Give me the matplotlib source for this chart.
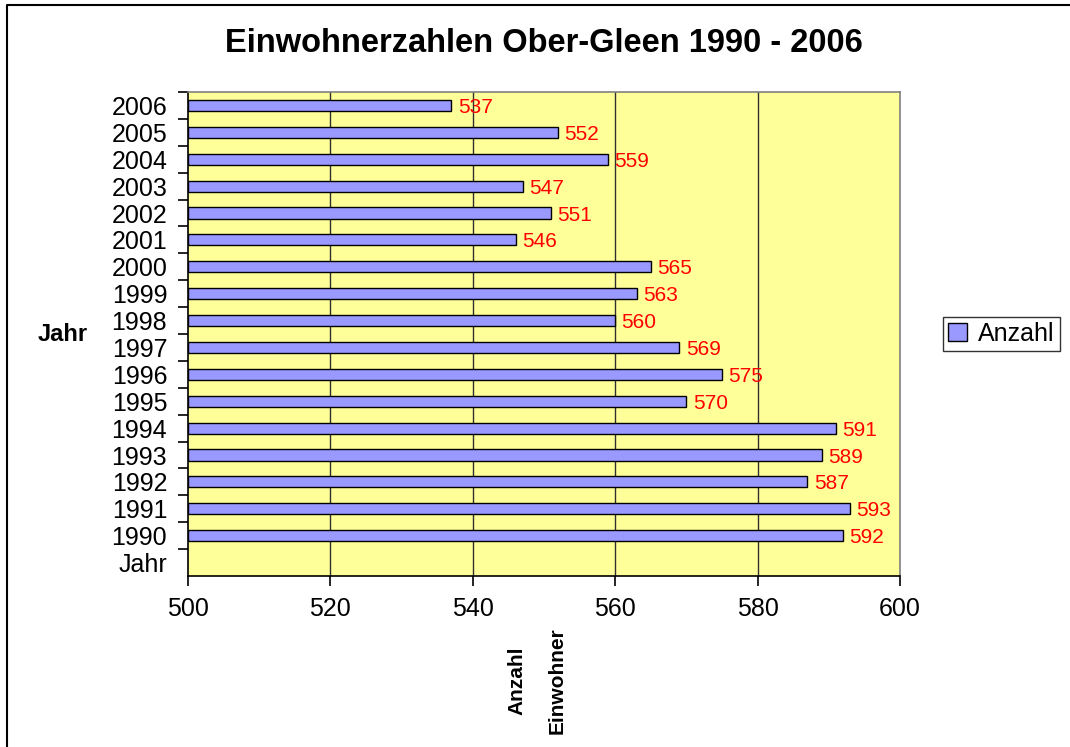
import matplotlib
matplotlib.use("Agg")
import matplotlib.pyplot as plt
from matplotlib.lines import Line2D

# ----------------------------
#   Daten
# ----------------------------
jahre = ["Jahr", "1990", "1991", "1992", "1993", "1994", "1995", "1996", "1997",
         "1998", "1999", "2000", "2001", "2002", "2003", "2004", "2005", "2006"]
anzahl = [None, 592, 593, 587, 589, 591, 570, 575, 569,
          560, 563, 565, 546, 551, 547, 559, 552, 537]
x_ticks = [500, 520, 540, 560, 580, 600]

plt.rcParams["font.family"] = ["Liberation Sans", "DejaVu Sans"]

fig = plt.figure(figsize=(10.7, 7.47), dpi=100)
ax = fig.add_axes([188 / 1070, 1 - 576 / 747, 712 / 1070, 484 / 747])

ax.set_facecolor("#FFFF99")
ax.set_xlim(500, 600)
ax.set_ylim(-0.5, len(jahre) - 0.5)

# vertikale Gitterlinien
for xv in x_ticks[1:-1]:
    ax.axvline(xv, color="#303030", linewidth=1.0, zorder=1)

pos = [i for i, v in enumerate(anzahl) if v is not None]
vals = [v for v in anzahl if v is not None]
bars = ax.barh(pos, [v - 500 for v in vals], left=500, height=0.41,
               color="#9999FF", edgecolor="black", linewidth=1.0, zorder=2,
               label="Anzahl")

for p, v in zip(pos, vals):
    ax.text(v + 0.9, p, str(v), color="#FF0000", fontsize=15,
            va="center_baseline", ha="left", zorder=3)

# Achsen
ax.set_xticks(x_ticks)
ax.set_xticklabels([str(t) for t in x_ticks], fontsize=18)
ax.set_yticks(range(len(jahre)))
ax.set_yticklabels(jahre, fontsize=18)
ax.tick_params(axis="y", length=0, pad=15)
ax.tick_params(axis="x", length=7, width=1.2, direction="out", pad=8)
ax.set_yticks([i + 0.5 for i in range(len(jahre))], minor=True)
ax.tick_params(axis="y", which="minor", length=7, width=1.2, direction="out")

for side in ["top", "right"]:
    ax.spines[side].set_color("#808080")
    ax.spines[side].set_linewidth(1.2)
for side in ["left", "bottom"]:
    ax.spines[side].set_color("black")
    ax.spines[side].set_linewidth(1.2)

ax.set_ylabel("Jahr", rotation=0, fontsize=17, fontweight="bold",
              ha="right", va="center")
ax.yaxis.set_label_coords(-0.1404, 0.5)

fig.text(537 / 1070, 1 - 681 / 747, "Anzahl\nEinwohner", rotation=90,
         fontsize=15, fontweight="bold", ha="center", va="center",
         multialignment="center", linespacing=2.4)

fig.text(544 / 1070, 1 - 43 / 747, "Einwohnerzahlen Ober-Gleen 1990 - 2006",
         fontsize=23.5, fontweight="bold", ha="center", va="center")

leg = fig.legend(handles=[bars], labels=["Anzahl"], loc="center left",
                 bbox_to_anchor=(943 / 1070, 1 - 334 / 747), fontsize=18,
                 frameon=True, fancybox=False, edgecolor="black",
                 handlelength=0.75, handleheight=0.75, handletextpad=0.45,
                 borderpad=0.2, borderaxespad=0)
leg.get_frame().set_linewidth(1.0)

# Rahmen (links und oben)
fig.add_artist(Line2D([7 / 1070, 7 / 1070, 1.0], [0.0, 1 - 5 / 747, 1 - 5 / 747],
                      color="black", linewidth=1.5, transform=fig.transFigure))

fig.savefig("out.png", dpi=100)
